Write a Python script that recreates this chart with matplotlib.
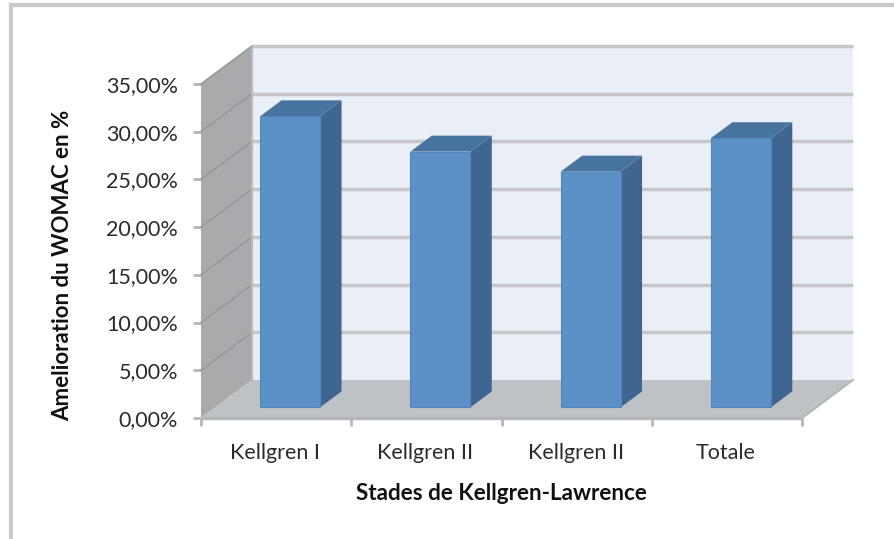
import matplotlib
matplotlib.use("Agg")
import matplotlib.pyplot as plt
from matplotlib.patches import Polygon, Rectangle

categories = ["Kellgren I", "Kellgren II", "Kellgren II", "Totale"]
values = [30.5, 26.8, 24.7, 28.2]
y_ticks = [0, 5, 10, 15, 20, 25, 30, 35]
y_labels = ["0,00%", "5,00%", "10,00%", "15,00%", "20,00%", "25,00%", "30,00%", "35,00%"]
x_title = "Stades de Kellgren-Lawrence"
y_title = "Amelioration du WOMAC en %"

W, H = 894, 539
plt.rcParams["font.family"] = ["Lato", "DejaVu Sans"]
fig = plt.figure(figsize=(W / 100, H / 100), dpi=100, facecolor="white")

# outer chart frame
fig.add_artist(Rectangle((11 / W, -0.02), 1.02 - 11 / W, 1.02 - 5 / H, transform=fig.transFigure,
                         fill=False, ec="#c9c9c9", lw=3))

L, R, T, B = 201, 802, 84, 418
ax = fig.add_axes([L / W, 1 - B / H, (R - L) / W, (B - T) / H])
ax.set_xlim(0, 4)
ax.set_ylim(0, 35)
ax.patch.set_visible(False)
for s in ax.spines.values():
    s.set_visible(False)

px_x = 4 / (R - L)
px_y = 35 / (B - T)
DX = 51 * px_x
DY = 38 * px_y

wall = "#eaeef7"
side_wall = "#a9aaac"
floor = "#bfc2c4"
grid = "#c4c6c8"

def P(x, y, d=0.0):
    return (x + d * DX, y + d * DY)

def poly(pts, color, z, ec="none", lw=0):
    ax.add_patch(Polygon(pts, closed=True, fc=color, ec=ec, lw=lw, zorder=z, clip_on=False))

poly([P(0, 0, 1), P(4, 0, 1), P(4, 35, 1), P(0, 35, 1)], wall, 1)
poly([P(0, 0, 0), P(0, 0, 1), P(0, 35, 1), P(0, 35, 0)], side_wall, 1)
poly([P(0, 0, 0), P(4, 0, 0), P(4, 0, 1), P(0, 0, 1)], floor, 2)

for t in y_ticks:
    xs, ys = zip(P(0, t, 0), P(0, t, 1), P(4, t, 1))
    if t == 0:
        xs, ys = zip(P(4, 0, 0), P(0, 0, 0))
        ax.plot(xs, ys, color="#b5b7b9", lw=2.5, zorder=3, clip_on=False, solid_capstyle="butt")
        continue
    ax.plot(xs[:2], ys[:2], color="#98999b", lw=1.2, zorder=2, clip_on=False)
    ax.plot(xs[1:], ys[1:], color=grid, lw=2.5, zorder=2, clip_on=False, solid_capstyle="butt")
ax.plot(*zip(P(0, 0, 1), P(0, 35, 1)), color="#b8b9bb", lw=1.5, zorder=2, clip_on=False)
ax.plot(*zip(P(4, 0, 0), P(4, 0, 1)), color="#b5b7b9", lw=1.5, zorder=3, clip_on=False)

# bars
front = "#5b91c7"
side = "#3f6690"
top = "#47739f"
d0, d1 = 0.28, 0.70
bw = 60 * px_x
for i, v in enumerate(values):
    x0 = i + 0.5 + (14 * px_x) - bw / 2
    x1 = x0 + bw
    base = d0 * DY
    poly([(x1, base), (x1 + (d1 - d0) * DX, base + (d1 - d0) * DY),
          (x1 + (d1 - d0) * DX, base + v + (d1 - d0) * DY), (x1, base + v)], side, 5)
    poly([(x0, base + v), (x1, base + v), (x1 + (d1 - d0) * DX, base + v + (d1 - d0) * DY),
          (x0 + (d1 - d0) * DX, base + v + (d1 - d0) * DY)], top, 5)
ax.bar([i + 0.5 + 14 * px_x for i in range(4)], values, width=bw, bottom=d0 * DY,
       color=front, edgecolor="#5586ba", lw=0.8, zorder=6, clip_on=False)

FS = 15.5
ax.set_yticks(y_ticks, y_labels)
ax.set_xticks([0, 1, 2, 3, 4])
ax.set_xticklabels([])
ax.tick_params(axis="y", length=6, width=2, color="#b5b7b9", pad=10.5, labelsize=FS, labelcolor="#2b2b2b")
ax.tick_params(axis="x", length=6, width=2, color="#b5b7b9", labelbottom=False)
for i, c in enumerate(categories):
    ax.text(i + 0.5 - 1 * px_x, -3.65, c, ha="center", va="center", fontsize=FS, color="#2b2b2b")

ax.text(2.0, -7.95, x_title, ha="center", va="center", fontsize=16.2, fontweight="bold", color="#111111")
fig.text(62.5 / W, 1 - 265 / H, y_title, rotation=90, ha="center", va="center", fontsize=16,
         fontweight="bold", color="#111111")

fig.savefig("out.png", dpi=100)
